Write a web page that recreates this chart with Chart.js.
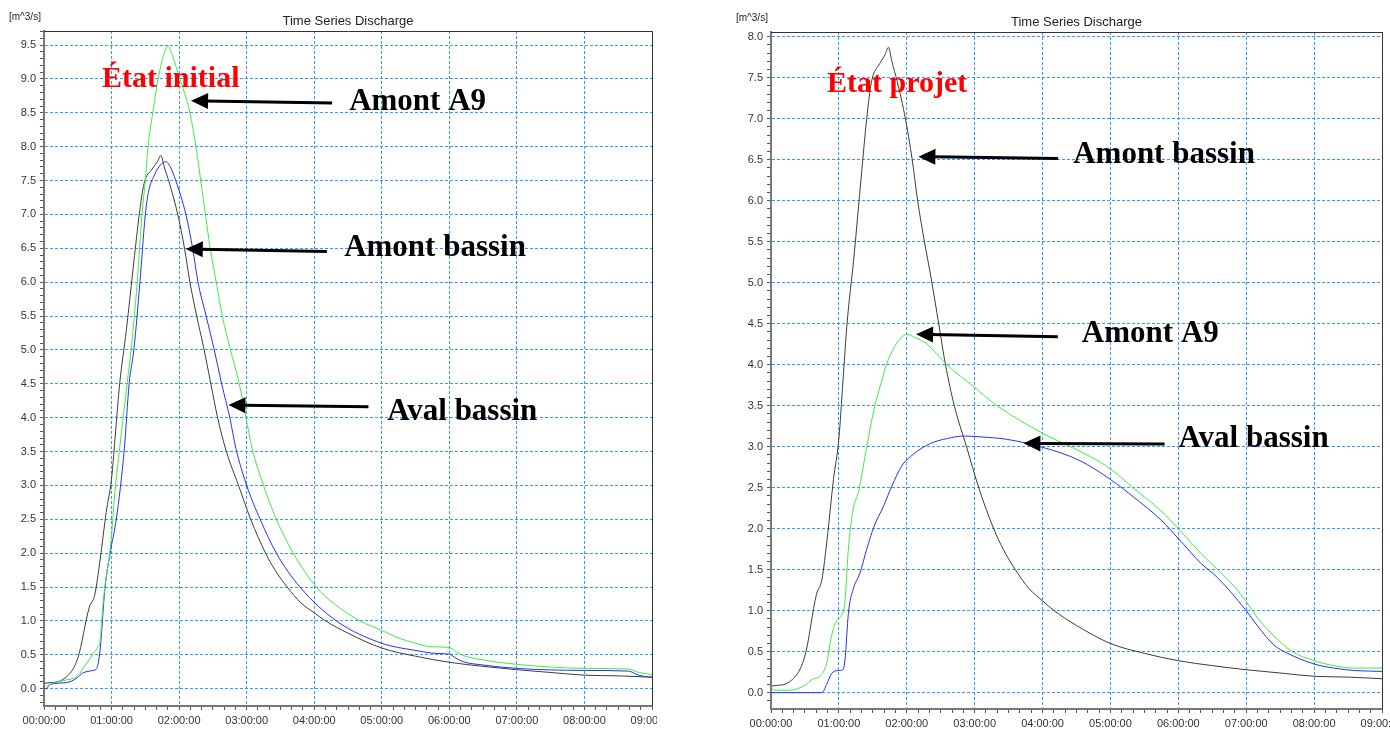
<!DOCTYPE html>
<html>
<head>
<meta charset="utf-8">
<script src="https://cdn.jsdelivr.net/npm/chart.js@4.4.1/dist/chart.umd.min.js"></script>
<style>
  body { margin: 0; background: #fff; width: 1390px; height: 731px; overflow: hidden; position: relative; }
  canvas { position: absolute; top: 0; }
  #left { left: 0; }
  #right { left: 727px; }
</style>
</head>
<body>
<canvas id="left" width="657" height="731"></canvas>
<canvas id="right" width="663" height="731"></canvas>
<script>
// x tick labels, one per hour
const hourLabels = ['00:00:00', '01:00:00', '02:00:00', '03:00:00', '04:00:00',
    '05:00:00', '06:00:00', '07:00:00', '08:00:00', '09:00:00'];

// Amont bassin (same inflow in both states), time in hours, discharge in m3/s
const bassinT = [0, 0.1, 0.25, 0.5, 0.67, 0.75, 0.83, 0.92, 1.0, 1.06, 1.12, 1.22, 1.33, 1.41, 1.48, 1.6, 1.68, 1.73, 1.78, 1.86,
    1.98, 2.08, 2.16, 2.26, 2.36, 2.47, 2.57, 2.7, 2.88, 3.06, 3.28, 3.42, 3.6, 3.8, 4.0, 4.17, 4.5, 5.0, 5.5, 6.0, 6.5, 7.0, 7.5, 8.0, 8.5, 9.0];
const bassinQ = [0.08, 0.09, 0.12, 0.45, 1.2, 1.38, 1.9, 2.6, 3.1, 3.8, 4.5, 5.3, 6.3, 7.0, 7.45, 7.67, 7.78, 7.87, 7.7, 7.45,
    7.0, 6.5, 6.0, 5.5, 5.05, 4.5, 4.0, 3.5, 3.0, 2.5, 2.0, 1.75, 1.5, 1.27, 1.12, 1.0, 0.82, 0.6, 0.48, 0.39, 0.33, 0.28, 0.24, 0.2, 0.19, 0.17];

// État initial
const a9InitT = [0, 0.05, 0.1, 0.33, 0.49, 0.6, 0.73, 0.8, 0.83, 0.88, 0.99, 1.05, 1.12, 1.23, 1.29, 1.38, 1.45, 1.5, 1.54, 1.61,
    1.69, 1.77, 1.84, 1.9, 2.01, 2.11, 2.16, 2.25, 2.32, 2.39, 2.46, 2.55, 2.64, 2.76, 2.89, 2.99, 3.08, 3.25, 3.44, 3.69,
    4.03, 4.3, 4.68, 5.0, 5.27, 5.47, 5.72, 6.0, 6.08, 6.18, 6.47, 7.0, 7.5, 8.0, 8.65, 8.8, 9.0];
const a9InitQ = [0.06, 0.03, 0.07, 0.13, 0.18, 0.33, 0.52, 0.62, 0.7, 1.32, 2.16, 2.9, 3.55, 4.5, 5.0, 6.0, 7.0, 7.5, 8.0, 8.5,
    9.0, 9.35, 9.48, 9.35, 9.0, 8.7, 8.5, 8.0, 7.5, 7.0, 6.5, 6.0, 5.5, 5.0, 4.5, 4.0, 3.55, 3.0, 2.5, 2.0,
    1.5, 1.25, 1.0, 0.86, 0.74, 0.68, 0.62, 0.61, 0.56, 0.5, 0.43, 0.36, 0.32, 0.3, 0.29, 0.24, 0.21];

const avalInitT = [0, 0.04, 0.08, 0.33, 0.49, 0.57, 0.73, 0.78, 0.83, 0.9, 0.99, 1.07, 1.19, 1.26, 1.33, 1.42, 1.5, 1.55, 1.62, 1.7,
    1.8, 1.86, 1.95, 2.1, 2.2, 2.28, 2.4, 2.52, 2.63, 2.75, 2.84, 3.0, 3.2, 3.44, 3.79, 4.33, 5.0, 5.47, 5.82, 6.0,
    6.1, 6.2, 6.5, 7.0, 8.0, 8.65, 8.8, 9.0];
const avalInitQ = [0.01, 0.0, 0.06, 0.09, 0.16, 0.23, 0.27, 0.3, 0.57, 1.46, 2.06, 2.5, 3.55, 4.5, 5.0, 6.0, 7.0, 7.35, 7.55, 7.7,
    7.78, 7.72, 7.5, 7.0, 6.5, 6.0, 5.5, 5.0, 4.5, 4.0, 3.55, 3.0, 2.5, 2.0, 1.5, 1.0, 0.67, 0.57, 0.52, 0.51,
    0.45, 0.4, 0.35, 0.3, 0.27, 0.26, 0.2, 0.17];

// État projet
const a9ProjT = [0, 0.04, 0.26, 0.5, 0.6, 0.72, 0.82, 0.89, 0.97, 1.08, 1.14, 1.21, 1.29, 1.41, 1.53, 1.63, 1.7, 1.82, 1.92, 2.0,
    2.1, 2.3, 2.59, 2.99, 3.33, 4.01, 4.41, 4.7, 5.0, 5.33, 5.74, 6.0, 6.33, 6.58, 6.82, 7.0, 7.17, 7.41, 7.68, 8.0,
    8.29, 8.58, 9.0];
const a9ProjQ = [0.08, 0.03, 0.03, 0.09, 0.16, 0.2, 0.36, 0.69, 0.88, 1.05, 1.75, 2.24, 2.45, 3.0, 3.5, 3.8, 4.0, 4.22, 4.33, 4.37,
    4.34, 4.25, 4.0, 3.73, 3.5, 3.16, 3.0, 2.88, 2.73, 2.5, 2.22, 2.0, 1.7, 1.5, 1.3, 1.11, 0.91, 0.69, 0.5, 0.39,
    0.33, 0.3, 0.3];

const avalProjT = [0, 0.75, 0.82, 0.89, 0.99, 1.06, 1.09, 1.14, 1.21, 1.31, 1.41, 1.51, 1.66, 1.78, 1.93, 2.1, 2.35, 2.6, 2.84, 3.08,
    3.47, 4.01, 4.55, 5.0, 5.35, 5.74, 6.0, 6.33, 6.58, 7.0, 7.17, 7.41, 7.61, 8.0, 8.29, 8.6, 9.0];
const avalProjQ = [0, 0, 0.1, 0.23, 0.27, 0.28, 0.4, 0.97, 1.26, 1.46, 1.75, 2.01, 2.28, 2.52, 2.77, 2.91, 3.04, 3.1, 3.13, 3.12,
    3.09, 2.99, 2.83, 2.6, 2.38, 2.11, 1.88, 1.58, 1.4, 1.0, 0.81, 0.58, 0.48, 0.35, 0.3, 0.27, 0.26];

const GREEN = '#3cee3c';
const BLUE = '#2b2bff';
const BLACK = '#3d3d33';
const GRID = '#3597ff';
const SANS = "'Liberation Sans', Arial, sans-serif";
const SERIF = "'Liberation Serif', 'Times New Roman', serif";

const pts = (t, q) => t.map((h, i) => ({ x: h * 60, y: q[i] }));

const series = (label, t, q, color) => ({
    label,
    data: pts(t, q),
    borderColor: color,
    borderWidth: 1,
    pointRadius: 0,
    cubicInterpolationMode: 'monotone',
});

// title, units, frame and the arrows / labels, placed in data coordinates (hours, m3/s)
function notesPlugin(notes, arrows) {
    return {
        id: 'notes',
        afterDatasetsDraw(chart) {
            const { ctx, chartArea: a, scales: { x, y } } = chart;
            const px = h => x.getPixelForValue(h * 60);
            const py = v => y.getPixelForValue(v);
            ctx.save();

            ctx.strokeStyle = '#333';
            ctx.lineWidth = 1;
            ctx.beginPath();
            ctx.moveTo(a.left, a.top + 0.5);
            ctx.lineTo(a.right + 0.5, a.top + 0.5);
            ctx.lineTo(a.right + 0.5, a.bottom);
            ctx.stroke();

            ctx.fillStyle = '#222';
            ctx.font = '13px ' + SANS;
            ctx.textAlign = 'center';
            ctx.textBaseline = 'middle';
            ctx.fillText('Time Series Discharge', (a.left + a.right) / 2, a.top - 10);
            ctx.font = '10px ' + SANS;
            ctx.textAlign = 'left';
            ctx.fillText('[m^3/s]', 9, a.top - 14);

            ctx.strokeStyle = '#000';
            ctx.fillStyle = '#000';
            ctx.lineWidth = 3;
            for (const ar of arrows) {
                const x1 = px(ar.tip[0]), y1 = py(ar.tip[1]);
                const x2 = px(ar.tail[0]), y2 = py(ar.tail[1]);
                const ang = Math.atan2(y2 - y1, x2 - x1);
                const c = Math.cos(ang), s = Math.sin(ang);
                ctx.beginPath();
                ctx.moveTo(x2, y2);
                ctx.lineTo(x1 + 14 * c, y1 + 14 * s);
                ctx.stroke();
                ctx.beginPath();
                ctx.moveTo(x1, y1);
                ctx.lineTo(x1 + 17 * c - 8 * s, y1 + 17 * s + 8 * c);
                ctx.lineTo(x1 + 17 * c + 8 * s, y1 + 17 * s - 8 * c);
                ctx.closePath();
                ctx.fill();
            }

            ctx.textAlign = 'left';
            ctx.textBaseline = 'alphabetic';
            for (const n of notes) {
                ctx.font = n.font;
                ctx.fillStyle = n.color;
                ctx.fillText(n.text, px(n.at[0]), py(n.at[1]));
            }
            ctx.restore();
        },
    };
}

function makeChart(id, datasets, yMin, yMax, pad, xHeight, notes, arrows) {
    const isHalf = v => v > -1e-9 && Math.abs(v * 2 - Math.round(v * 2)) < 1e-6;
    return new Chart(document.getElementById(id), {
        type: 'line',
        data: { datasets },
        options: {
            responsive: false,
            animation: false,
            devicePixelRatio: 1,
            layout: { autoPadding: false, padding: { top: pad.top, right: pad.right, left: 0, bottom: 0 } },
            plugins: { legend: { display: false }, tooltip: { enabled: false } },
            scales: {
                x: {
                    type: 'linear',
                    min: 0,
                    max: 540,
                    afterFit: s => { s.height = xHeight; s.paddingLeft = 0; s.paddingRight = 0; },
                    ticks: {
                        stepSize: 10,
                        autoSkip: false,
                        maxRotation: 0,
                        minRotation: 0,
                        padding: 4,
                        color: '#333',
                        font: { family: SANS, size: 11 },
                        callback: v => (v % 60 === 0 ? hourLabels[v / 60] : ''),
                    },
                    grid: {
                        color: c => (c.tick && c.tick.value % 60 === 0 ? GRID : 'rgba(0,0,0,0)'),
                        tickColor: '#555',
                        tickLength: 4,
                        tickBorderDash: [1, 0],
                        lineWidth: 1,
                    },
                    border: { color: '#777', width: 2, dash: [3, 2] },
                },
                y: {
                    min: yMin,
                    max: yMax,
                    afterFit: s => { s.width = 44; },
                    ticks: {
                        stepSize: 0.1,
                        includeBounds: false,
                        autoSkip: false,
                        padding: 4,
                        color: '#333',
                        font: { family: SANS, size: 11 },
                        callback: v => (isHalf(v) ? v.toFixed(1) : ''),
                    },
                    grid: {
                        color: c => (c.tick && isHalf(c.tick.value) ? GRID : 'rgba(0,0,0,0)'),
                        tickColor: '#555',
                        tickLength: 4,
                        tickBorderDash: [1, 0],
                        lineWidth: 1,
                    },
                    border: { color: '#777', width: 2, dash: [3, 2] },
                },
            },
        },
        plugins: [notesPlugin(notes, arrows)],
    });
}

const labelFont = 'bold 31px ' + SERIF;
const stateFont = 'bold 30px ' + SERIF;

makeChart('left', [
    series('Amont A9', a9InitT, a9InitQ, GREEN),
    series('Aval bassin', avalInitT, avalInitQ, BLUE),
    series('Amont bassin', bassinT, bassinQ, BLACK),
], -0.255, 9.707, { top: 31, right: 5 }, 25, [
    { text: 'État initial', at: [0.859, 8.88], font: stateFont, color: '#ff0000' },
    { text: 'Amont A9', at: [4.517, 8.54], font: labelFont, color: '#000' },
    { text: 'Amont bassin', at: [4.443, 6.385], font: labelFont, color: '#000' },
    { text: 'Aval bassin', at: [5.08, 3.965], font: labelFont, color: '#000' },
], [
    { tip: [2.177, 8.678], tail: [4.265, 8.644] },
    { tip: [2.099, 6.489], tail: [4.187, 6.452] },
    { tip: [2.73, 4.187], tail: [4.803, 4.162] },
]);

makeChart('right', [
    series('Amont A9', a9ProjT, a9ProjQ, GREEN),
    series('Aval bassin', avalProjT, avalProjQ, BLUE),
    series('Amont bassin', bassinT, bassinQ, BLACK),
], -0.199, 8.057, { top: 32, right: 8 }, 22, [
    { text: 'État projet', at: [0.825, 7.33], font: stateFont, color: '#ff0000' },
    { text: 'Amont bassin', at: [4.451, 6.46], font: labelFont, color: '#000' },
    { text: 'Amont A9', at: [4.579, 4.28], font: labelFont, color: '#000' },
    { text: 'Aval bassin', at: [6.003, 2.996], font: labelFont, color: '#000' },
], [
    { tip: [2.171, 6.537], tail: [4.23, 6.515] },
    { tip: [2.137, 4.371], tail: [4.225, 4.341] },
    { tip: [3.718, 3.041], tail: [5.797, 3.033] },
]);
</script>
</body>
</html>
